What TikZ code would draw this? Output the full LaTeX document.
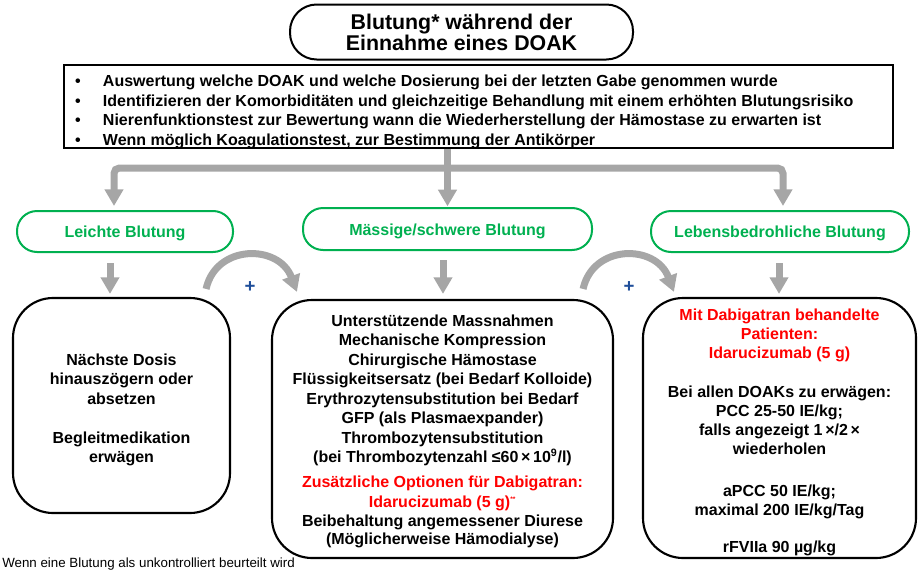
\documentclass[tikz,border=0pt]{standalone}
\usepackage{fontspec}
\setmainfont{Liberation Sans}
\usetikzlibrary{arrows.meta}
\definecolor{grn}{HTML}{00B050}
\definecolor{gry}{HTML}{A6A6A6}
\definecolor{blu}{HTML}{1F4E9A}
\definecolor{rd}{HTML}{FF0000}
\newcommand{\lowered}[3]{\raisebox{-#1}[\height][\depth]{\parbox{#2}{\centering #3}}}
\begin{document}
\begin{tikzpicture}[x=0.75pt,y=-0.75pt,
 pill/.style={draw=grn, line width=1.5pt, rounded corners=15pt, text=grn, font=\fontsize{12}{14}\selectfont\bfseries, inner sep=0pt},
 box/.style={draw=black, line width=1.6pt, rounded corners=30pt, font=\fontsize{12}{14.6}\selectfont\bfseries, inner sep=0pt},
 gline/.style={draw=gry, line width=5.25pt},
 garrow/.style={gline, -{Triangle[width=13.5pt,length=12.5pt]}},
 plus/.style={text=blu, font=\fontsize{14}{14}\selectfont\bfseries, inner sep=0pt}]
\useasboundingbox (0,0) rectangle (920,571);

\node[draw, line width=1.5pt, rounded corners=20pt, minimum width=257.25pt, minimum height=41.25pt, align=center, font=\fontsize{16}{15.75}\selectfont\bfseries, inner sep=0pt] (title) at (461.5,32) {Blutung* während der\\Einnahme eines DOAK};

\node[draw, line width=1.6pt, minimum width=621.75pt, minimum height=62.25pt, inner sep=0pt, font=\fontsize{12}{14.8}\selectfont\bfseries] (bul) at (478.5,106.5)
 {\raisebox{-4pt}[\height][\depth]{\parbox{605.25pt}{\raggedright
  \makebox[21pt][l]{•}Auswertung welche DOAK und welche Dosierung bei der letzten Gabe genommen wurde\\
  \makebox[21pt][l]{•}Identifizieren der Komorbiditäten und gleichzeitige Behandlung mit einem erhöhten Blutungsrisiko\\
  \makebox[21pt][l]{•}Nierenfunktionstest zur Bewertung wann die Wiederherstellung der Hämostase zu erwarten ist\\
  \makebox[21pt][l]{•}Wenn möglich Koagulationstest, zur Bestimmung der Antikörper}}};

\node[pill, minimum width=162pt, minimum height=30.75pt] (leicht) at (125,231.5) {\raisebox{-1.5pt}[\height][\depth]{Leichte Blutung}};
\node[pill, minimum width=216.75pt, minimum height=31.5pt] (mass) at (447.5,229) {\raisebox{-1.5pt}[\height][\depth]{Mässige/schwere Blutung}};
\node[pill, minimum width=193.5pt, minimum height=30.75pt] (leben) at (780,231.5) {\raisebox{-1.5pt}[\height][\depth]{Lebensbedrohliche Blutung}};

\node[box, minimum width=162.75pt, minimum height=161.25pt] (lbox) at (121.5,405.5)
 {\lowered{3.4pt}{150pt}{Nächste Dosis\\hinauszögern oder\\absetzen\\[14.6pt]Begleitmedikation\\erwägen}};

\node[box, minimum width=255.75pt, minimum height=193.5pt] (mbox) at (442.5,429)
 {\lowered{1.8pt}{245pt}{Unterstützende Massnahmen\\Mechanische Kompression\\Chirurgische Hämostase\\Flüssigkeitsersatz (bei Bedarf Kolloide)\\Erythrozytensubstitution bei Bedarf\\GFP (als Plasmaexpander)\\Thrombozytensubstitution\\(bei Thrombozytenzahl ≤60\,×\,10\textsuperscript{9}/l)\\[4.5pt]\textcolor{rd}{Zusätzliche Optionen für Dabigatran:}\\\textcolor{rd}{Idarucizumab (5 g)\textsuperscript{\tiny**}}\\[-0.6pt]Beibehaltung angemessener Diurese\\[-0.6pt](Möglicherweise Hämodialyse)}};

\node[box, minimum width=204.75pt, minimum height=195pt, font=\fontsize{12}{14.3}\selectfont\bfseries] (rbox) at (779.5,428)
 {\lowered{3.4pt}{195pt}{\textcolor{rd}{Mit Dabigatran behandelte}\\\textcolor{rd}{Patienten:}\\\textcolor{rd}{Idarucizumab (5 g)}\\[15pt]Bei allen DOAKs zu erwägen:\\PCC 25-50 IE/kg;\\falls angezeigt 1\,×/2\,×\\wiederholen\\[17pt]aPCC 50 IE/kg;\\maximal 200 IE/kg/Tag\\[13.5pt]rFVIIa 90 µg/kg}};

% connectors from bullet box
\coordinate (j) at (447.5,168);
\draw[gline] (bul.south -| mass.north) -- (j);
\draw[garrow, shorten >=0.5pt] (j) -- (mass.north);
\draw[garrow, rounded corners=4pt] (j) -| ([xshift=-8.25pt,yshift=3pt]leicht.north);
\draw[garrow, rounded corners=4pt] (j) -| ([xshift=2.25pt,yshift=3pt]leben.north);

% pills to boxes
\draw[garrow, shorten <=7.5pt, shorten >=2.25pt] ([xshift=-11.25pt]leicht.south) -- ([xshift=-11.25pt]leicht.south |- lbox.north);
\draw[garrow, shorten <=6.75pt, shorten >=3.75pt] ([xshift=-3.375pt]mass.south) -- ([xshift=-3.375pt]mass.south |- mbox.north);
\draw[garrow, shorten <=7.5pt, shorten >=2.25pt] ([xshift=-0.75pt]leben.south) -- ([xshift=-0.75pt]leben.south |- rbox.north);

% curved plus arrows
\draw[garrow] ([shift={(-25,-8)}]lbox.north east) .. controls +(10,-45) and +(-18,-48) .. ([shift={(26,-7)}]mbox.north west);
\draw[garrow] ([shift={(-31,-10)}]mbox.north east) .. controls +(10,-45) and +(-18,-48) .. ([shift={(32,-5)}]rbox.north west);
\node[plus] (p1) at (250,287) {+};
\node[plus] (p2) at (629,287) {+};

\node[anchor=base west, inner sep=0pt, font=\fontsize{10}{12}\selectfont] (fn) at (2,567) {Wenn eine Blutung als unkontrolliert beurteilt wird};
\end{tikzpicture}
\end{document}
